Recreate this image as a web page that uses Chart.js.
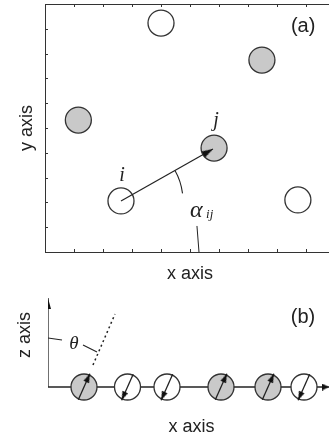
<!DOCTYPE html>
<html>
<head>
<meta charset="utf-8">
<script src="https://cdn.jsdelivr.net/npm/chart.js@4.4.1/dist/chart.umd.min.js"></script>
<style>
  html, body { margin: 0; padding: 0; background: #fff; overflow: hidden; width: 329px; height: 441px; }
  canvas { position: absolute; left: 0; }
  #panel-a { top: 0; }
  #panel-b { top: 285px; }
</style>
</head>
<body>
<canvas id="panel-a" width="335" height="285"></canvas>
<canvas id="panel-b" width="335" height="156"></canvas>
<script>
// panel (a): particles in the x-y plane
const openX = [4.0, 2.62, 8.72];
const openY = [9.23, 2.06, 2.1];
const grayX = [7.48, 1.15, 5.83];
const grayY = [7.74, 5.32, 4.19];
const bondX = [2.62, 5.79];        // from particle i to the tip at j
const bondY = [2.06, 4.15];
const alphaLeaderX = [5.24, 5.31];
const alphaLeaderY = [1.05, 0];

// panel (b): spins along the chain
const spinX = [3.6, 7.95, 11.9, 17.3, 22.0, 25.6];
const spinUp = [true, false, false, true, true, false];
const spinTilt = 24;               // degrees away from the z axis
const thetaRayX = [4.5, 6.7];
const thetaRayY = [2.2, 7.3];
const thetaLeaderAX = [0, 1.4];
const thetaLeaderAY = [4.9, 4.7];
const thetaLeaderBX = [3.5, 4.9];
const thetaLeaderBY = [4.2, 3.5];
const zAxisTop = 8.9;
const xAxisEnd = 28.1;

const INK = "#222";
const RIM = "#333";
const GRAY = "#c9c9c9";
const SANS = "'Liberation Sans', Arial, sans-serif";
const SERIF = "'Liberation Serif', 'Times New Roman', serif";

// arrow head drawn as a point image, tip sits at the point itself
function makeHead(width, length) {
  const c = document.createElement("canvas");
  c.width = width;
  c.height = length * 2;
  const g = c.getContext("2d");
  g.fillStyle = "#111";
  g.beginPath();
  g.moveTo(width / 2, length);
  g.lineTo(width, length * 2);
  g.lineTo(0, length * 2);
  g.closePath();
  g.fill();
  return c;
}

// rotate the head along the segment that leads into it
function headRotation(ctx) {
  const d = ctx.dataset.data;
  const i = ctx.dataIndex;
  if (i === 0) return 0;
  const sx = ctx.chart.scales.x;
  const sy = ctx.chart.scales.y;
  const dx = sx.getPixelForValue(d[i].x) - sx.getPixelForValue(d[i - 1].x);
  const dy = sy.getPixelForValue(d[i].y) - sy.getPixelForValue(d[i - 1].y);
  return (Math.atan2(dx, -dy) * 180) / Math.PI;
}

function zip(xs, ys) {
  return xs.map((x, i) => ({ x: x, y: ys[i] }));
}

function segment(xs, ys, extra) {
  return Object.assign(
    {
      data: zip(xs, ys),
      showLine: true,
      borderColor: INK,
      borderWidth: 1.2,
      pointRadius: 0,
      order: 1,
    },
    extra || {}
  );
}

function arrow(xs, ys, head, extra) {
  return segment(xs, ys, Object.assign(
    {
      pointRadius: [0, 1],
      pointStyle: head,
      pointRotation: headRotation,
    },
    extra || {}
  ));
}

function hiddenAxis(extra) {
  return Object.assign(
    {
      type: "linear",
      ticks: { display: false, stepSize: 1 },
      grid: { display: false, drawTicks: false },
      border: { display: true, color: RIM, width: 1 },
    },
    extra
  );
}

const commonOptions = {
  responsive: false,
  animation: false,
  events: [],
  plugins: { legend: { display: false }, tooltip: { enabled: false } },
};

// ---------- panel (a) ----------
const panelAExtras = {
  id: "panelAExtras",
  afterDatasetsDraw(chart) {
    const { ctx, scales } = chart;
    const x = scales.x;
    const y = scales.y;
    ctx.save();
    ctx.strokeStyle = RIM;
    ctx.lineWidth = 1;
    ctx.beginPath();
    x.ticks.forEach((t) => {
      if (t.value <= x.min || t.value >= x.max) return;
      const px = Math.round(x.getPixelForValue(t.value)) + 0.5;
      ctx.moveTo(px, y.bottom);
      ctx.lineTo(px, y.bottom - 3);
      ctx.moveTo(px, y.top);
      ctx.lineTo(px, y.top + 3);
    });
    y.ticks.forEach((t) => {
      if (t.value <= y.min || t.value >= y.max) return;
      const py = Math.round(y.getPixelForValue(t.value)) + 0.5;
      ctx.moveTo(x.left, py);
      ctx.lineTo(x.left + 3, py);
    });
    ctx.stroke();

    // angle between the bond and the x axis
    const cx = x.getPixelForValue(bondX[0]);
    const cy = y.getPixelForValue(bondY[0]);
    const a0 = Math.atan2(
      y.getPixelForValue(bondY[1]) - cy,
      x.getPixelForValue(bondX[1]) - cx
    );
    ctx.strokeStyle = INK;
    ctx.lineWidth = 1.1;
    ctx.beginPath();
    ctx.arc(cx, cy, 62, a0, (-7 * Math.PI) / 180);
    ctx.stroke();

    ctx.fillStyle = INK;
    ctx.textAlign = "center";
    ctx.textBaseline = "middle";
    ctx.font = "20px " + SANS;
    ctx.fillText("(a)", x.getPixelForValue(8.9), y.getPixelForValue(9.11));
    ctx.font = "italic 20px " + SERIF;
    ctx.fillText("j", x.getPixelForValue(5.9), y.getPixelForValue(5.28));
    ctx.fillText("i", x.getPixelForValue(2.66), y.getPixelForValue(3.06));
    ctx.font = "italic 24px " + SERIF;
    ctx.fillText("\u03b1", x.getPixelForValue(5.22), y.getPixelForValue(1.65));
    ctx.font = "italic 13px " + SERIF;
    ctx.fillText("ij", x.getPixelForValue(5.68), y.getPixelForValue(1.49));
    ctx.restore();
  },
};

new Chart(document.getElementById("panel-a"), {
  type: "scatter",
  data: {
    datasets: [
      arrow(bondX, bondY, makeHead(7, 11)),
      segment(alphaLeaderX, alphaLeaderY, { borderWidth: 1 }),
      {
        data: zip(openX, openY),
        pointRadius: 13,
        pointBackgroundColor: "#fff",
        pointBorderColor: RIM,
        pointBorderWidth: 1.3,
        order: 2,
      },
      {
        data: zip(grayX, grayY),
        pointRadius: 13,
        pointBackgroundColor: GRAY,
        pointBorderColor: RIM,
        pointBorderWidth: 1.3,
        order: 2,
      },
    ],
  },
  options: Object.assign({}, commonOptions, {
    layout: { autoPadding: false, padding: { left: 16.2, top: 4, right: 0, bottom: 0 } },
    scales: {
      x: hiddenAxis({
        position: "bottom",
        min: 0,
        max: 10,
        title: {
          display: true,
          text: "x axis",
          color: INK,
          font: { family: SANS, size: 18, lineHeight: 1.2 },
          padding: { top: 11.2, bottom: 0.2 },
        },
      }),
      x2: hiddenAxis({ position: "top", axis: "x", min: 0, max: 10 }),
      y: hiddenAxis({
        position: "left",
        min: 0,
        max: 10,
        title: {
          display: true,
          text: "y axis",
          color: INK,
          font: { family: SANS, size: 18, lineHeight: 1.2 },
          padding: { top: 0, bottom: 7.2 },
        },
      }),
    },
  }),
  plugins: [panelAExtras],
});

// ---------- panel (b) ----------
const spinHead = makeHead(6, 9);
const rad = (spinTilt * Math.PI) / 180;
const spinArrows = spinX.map((cx, k) => {
  const s = spinUp[k] ? 1 : -1;
  return arrow(
    [cx - s * Math.sin(rad) * 1.4, cx + s * Math.sin(rad) * 1.45],
    [-s * Math.cos(rad) * 1.4, s * Math.cos(rad) * 1.45],
    spinHead,
    { borderWidth: 1.3 }
  );
});

const panelBExtras = {
  id: "panelBExtras",
  afterDatasetsDraw(chart) {
    const { ctx, scales } = chart;
    const x = scales.x;
    const y = scales.y;
    ctx.save();
    ctx.fillStyle = INK;
    ctx.textAlign = "center";
    ctx.textBaseline = "middle";
    ctx.font = "20px " + SANS;
    ctx.fillText("(b)", x.getPixelForValue(25.5), y.getPixelForValue(7.0));
    ctx.font = "italic 19px " + SERIF;
    ctx.fillText("\u03b8", x.getPixelForValue(2.6), y.getPixelForValue(4.3));
    ctx.translate(25, y.getPixelForValue(5.2));
    ctx.rotate(-Math.PI / 2);
    ctx.font = "18px " + SANS;
    ctx.fillText("z axis", 0, 0);
    ctx.restore();
  },
};

new Chart(document.getElementById("panel-b"), {
  type: "scatter",
  data: {
    datasets: spinArrows.concat([
      segment(thetaRayX, thetaRayY, { borderDash: [2, 3], borderWidth: 1.5 }),
      segment(thetaLeaderAX, thetaLeaderAY),
      segment(thetaLeaderBX, thetaLeaderBY),
      {
        data: spinX.map((v) => ({ x: v, y: 0 })),
        pointRadius: 13,
        pointBackgroundColor: spinUp.map((up) => (up ? GRAY : "#fff")),
        pointBorderColor: RIM,
        pointBorderWidth: 1.3,
        order: 2,
      },
      arrow([0, 0], [0, zAxisTop], makeHead(6, 11), { borderWidth: 1.3, order: 3 }),
      arrow([0, xAxisEnd], [0, 0], makeHead(7, 7), { borderWidth: 1.3, order: 3 }),
    ]),
  },
  options: Object.assign({}, commonOptions, {
    layout: { autoPadding: false, padding: { left: 48, top: 7, right: 0, bottom: 0 } },
    scales: {
      x: hiddenAxis({
        position: "bottom",
        min: 0,
        max: 28.7,
        border: { display: false },
        title: {
          display: true,
          text: "x axis",
          color: INK,
          font: { family: SANS, size: 18, lineHeight: 1.2 },
          padding: { top: 14.2, bottom: 3.2 },
        },
      }),
      y: hiddenAxis({ position: "left", min: -1.5, max: 9.5, display: false }),
    },
  }),
  plugins: [panelBExtras],
});
</script>
</body>
</html>
